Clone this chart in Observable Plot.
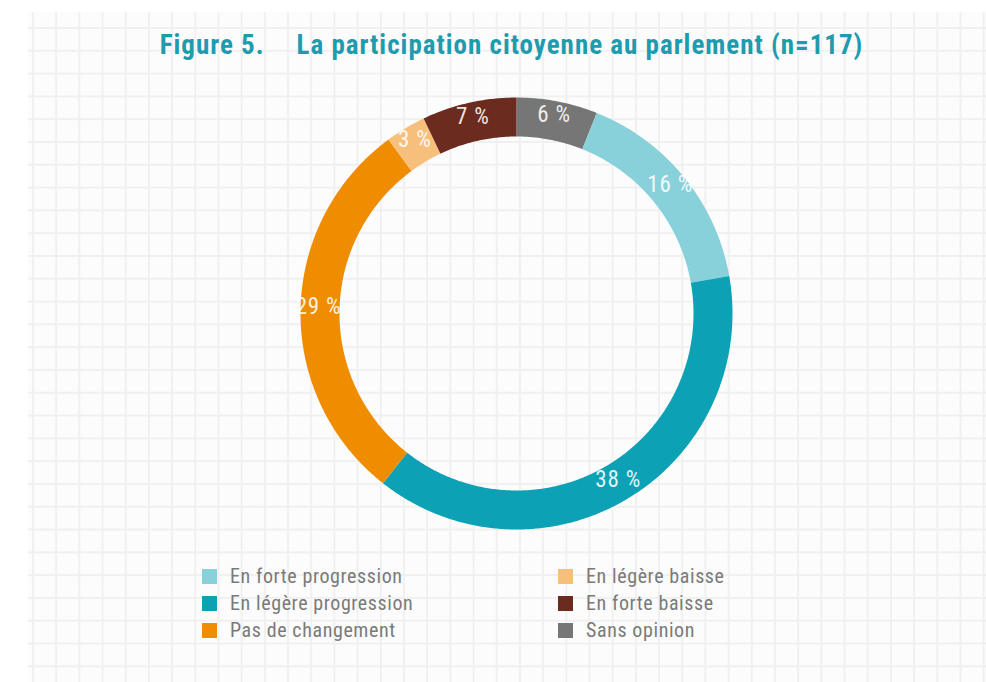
<!DOCTYPE html>
<html>
<head>
<meta charset="utf-8">
<script src="https://cdn.jsdelivr.net/npm/d3@7"></script>
<script src="https://cdn.jsdelivr.net/npm/@observablehq/plot@0.6"></script>
<style>
  html, body { margin: 0; padding: 0; background: #ffffff; }
  #page { position: relative; width: 986px; height: 682px; overflow: hidden; }
  #grid {
    position: absolute; left: 28px; top: 12px; right: 0; bottom: 0;
    background-color: #fcfcfc;
    background-image:
      linear-gradient(to right, #f0f0f0 2px, transparent 2px),
      linear-gradient(to bottom, #f0f0f0 2px, transparent 2px);
    background-size: 23.2px 22.8px;
    background-position: 4px 15px;
    filter: blur(0.6px);
  }
  #content { position: absolute; left: 0; top: 0; width: 986px; height: 682px; }
  .cond { font-family: "Roboto Condensed", "Liberation Sans Narrow", "Arial Narrow", "DejaVu Sans Condensed", "Liberation Sans", sans-serif; font-stretch: condensed; }
  #title { height: 72px; box-sizing: border-box; padding-top: 30px; padding-left: 37px; text-align: center;
    line-height: 30px; font-size: 27px; font-weight: bold; color: #1f9bae; white-space: nowrap; letter-spacing: 1px; }
  #title .num { margin-right: 32px; }
  .leg-swatch > svg { margin-right: 13px !important; }
</style>
</head>
<body>
<div id="page">
  <div id="grid"></div>
  <div id="content">
    <div id="title" class="cond"><span class="num">Figure 5.</span><span>La participation citoyenne au parlement (n=117)</span></div>
    <div id="chart"></div>
    <div id="legend"></div>
  </div>
</div>
<script>
// ---- data ----
const categories = ["En forte progression", "En légère progression", "Pas de changement", "En légère baisse", "En forte baisse", "Sans opinion"];
const values = [16, 38, 29, 3, 7, 6];
const colors = ["#88d1da", "#0ca1b5", "#f08c00", "#f6c07c", "#6b2b1e", "#767676"];
const ringStart = "Sans opinion"; // first segment clockwise from 12 o'clock

// ---- geometry constants (style, not data) ----
const CX = 516, CY = 241;         // centre inside the svg
const OUTER = 216, INNER = 177, LABEL_R = 198; // px
const DEG_OUT = 40;               // angular radius of outer edge
const K = OUTER / (DEG_OUT * Math.PI / 180);
const latOf = (px) => 90 - (px / K) * 180 / Math.PI;
const LAT_OUT = latOf(OUTER), LAT_IN = latOf(INNER), LAT_LABEL = latOf(LABEL_R);

// ring order: clockwise starting from ringStart
const startIdx = categories.indexOf(ringStart);
const order = d3.range(categories.length).map(i => (startIdx + i) % categories.length);
const total = d3.sum(values);

let acc = 0;
const segments = order.map(i => {
  const a0 = acc / total * 360; acc += values[i]; const a1 = acc / total * 360;
  return {category: categories[i], value: values[i], a0, a1};
});

// lon = 180 - clockwise angle from top (north-pole azimuthal view)
const features = segments.map(s => {
  const lon0 = 180 - s.a1, lon1 = 180 - s.a0;
  const n = Math.max(2, Math.ceil((lon1 - lon0) / 0.5));
  const inner = d3.range(n + 1).map(j => [lon0 + (lon1 - lon0) * j / n, LAT_IN]);
  const outer = inner.map(([x]) => [x, LAT_OUT]).reverse();
  return {type: "Feature", properties: {category: s.category},
          geometry: {type: "Polygon", coordinates: [[...inner, ...outer, inner[0]]]}};
});

const labels = segments.map(s => ({lon: 180 - (s.a0 + s.a1) / 2, lat: LAT_LABEL, text: `${s.value} %`}));

const FONT = `"Roboto Condensed", "Liberation Sans Narrow", "Arial Narrow", "DejaVu Sans Condensed", "Liberation Sans", sans-serif`;

const chart = Plot.plot({
  width: 986,
  height: 480,
  margin: 0,
  style: {background: "transparent", fontFamily: FONT, letterSpacing: "0.8px"},
  projection: d3.geoAzimuthalEquidistant().rotate([0, -90]).scale(K).translate([CX, CY]).precision(0.1),
  color: {domain: categories, range: colors},
  marks: [
    Plot.geo(features, {fill: d => d.properties.category}),
    Plot.text(labels, {x: "lon", y: "lat", text: "text", fill: "#ffffff", fontSize: 23, fillOpacity: 0.9, dy: -4})
  ]
});
document.getElementById("chart").appendChild(chart);

const legend = Plot.legend({
  color: {domain: categories, range: colors},
  legend: "swatches",
  className: "leg",
  columns: 2,
  swatchSize: 15,
  marginLeft: 202,
  width: 712,
  style: {fontFamily: FONT, fontSize: "20px", color: "#7a7a7a", lineHeight: "26px", columnGap: "0px", marginTop: "11px", letterSpacing: "0.6px"}
});
document.getElementById("legend").appendChild(legend);
</script>
</body>
</html>
